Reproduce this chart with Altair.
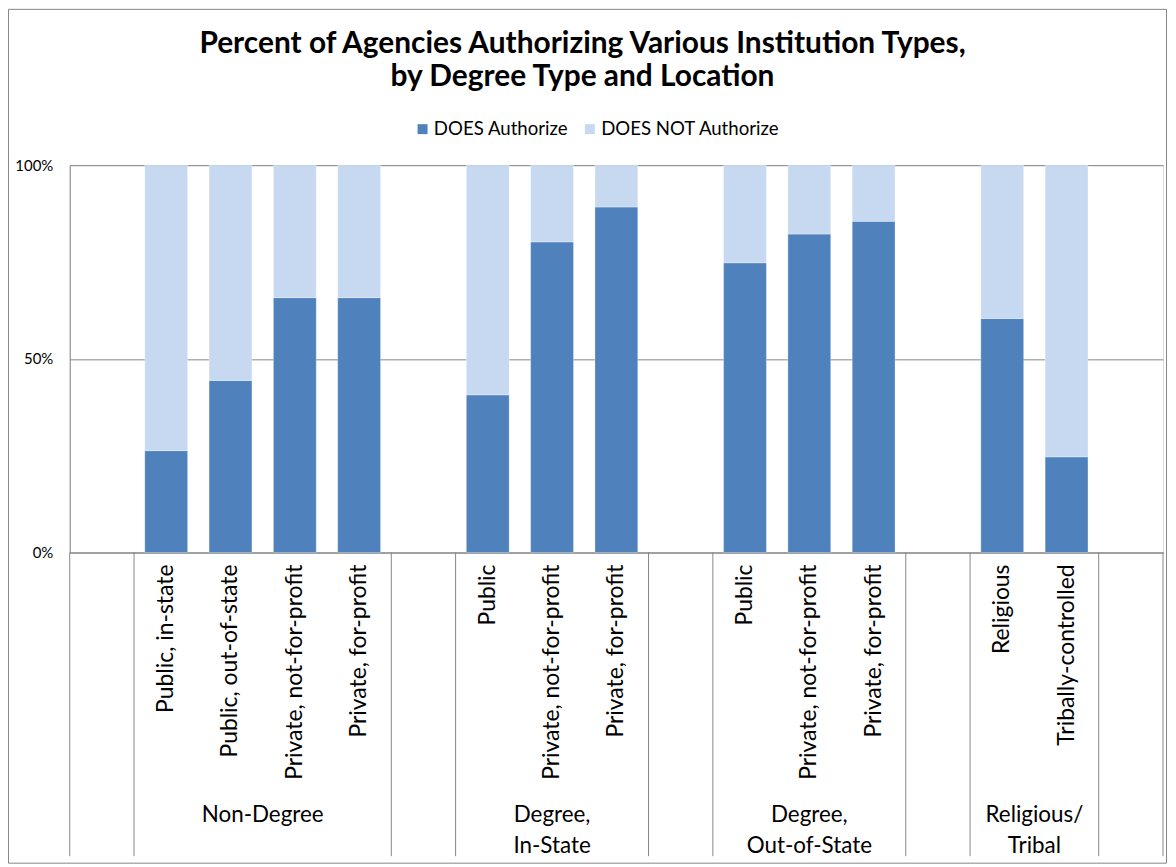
import altair as alt
import pandas as pd

title_lines = ["Percent of Agencies Authorizing Various Institution Types,",
               "by Degree Type and Location"]
series = ["DOES Authorize", "DOES NOT Authorize"]
colors = ["#4F81BD", "#C6D9F1"]
group_names = ["Non-Degree", "Degree,\nIn-State", "Degree,\nOut-of-State", "Religious/\nTribal"]
group_items = [
    ["Public, in-state", "Public, out-of-state", "Private, not-for-profit", "Private, for-profit"],
    ["Public", "Private, not-for-profit", "Private, for-profit"],
    ["Public", "Private, not-for-profit", "Private, for-profit"],
    ["Religious", "Tribally-controlled"],
]
does_pct = [26.3, 44.4, 65.8, 65.8, 40.7, 80.2, 89.2, 74.8, 82.2, 85.5, 60.4, 24.7]
y_ticks = [0, 50, 100]

# build tables (one blank slot before each group and after the last)
bar_rows, label_rows, group_rows, sep_rows = [], [], [], [{"pos": 0}]
slot = 1
k = 0
for g, items in zip(group_names, group_items):
    start = slot
    sep_rows.append({"pos": start})
    for it in items:
        v = does_pct[k]
        bar_rows.append({"x0": slot + 0.167, "x1": slot + 0.833, "series": series[0], "y0": 0, "y1": v})
        bar_rows.append({"x0": slot + 0.167, "x1": slot + 0.833, "series": series[1], "y0": v, "y1": 100})
        label_rows.append({"c": slot + 0.5, "label": it})
        slot += 1
        k += 1
    sep_rows.append({"pos": slot})
    group_rows.append({"c": (start + slot) / 2, "label": g})
    slot += 1
n_slots = slot
sep_rows.append({"pos": n_slots})

bars_df = pd.DataFrame(bar_rows)
labels_df = pd.DataFrame(label_rows)
groups_df = pd.DataFrame(group_rows)
seps_df = pd.DataFrame(sep_rows)

W, H = 1098, 389
FONT = "Lato"
GRAY = "#868686"

xscale = alt.Scale(domain=[0, n_slots], nice=False, zero=False)

bars = alt.Chart(bars_df).mark_bar(stroke="#FFFFFF", strokeWidth=0.6, strokeOpacity=0.5).encode(
    x=alt.X("x0:Q", scale=xscale,
            axis=alt.Axis(title=None, labels=False, ticks=False, grid=False,
                          domainColor=GRAY, domainWidth=1)),
    x2="x1:Q",
    y=alt.Y("y0:Q", scale=alt.Scale(domain=[0, 100], nice=False),
            axis=alt.Axis(title=None, values=y_ticks, labelExpr="datum.value + '%'",
                          ticks=False, tickSize=0, labelPadding=17, labelFontSize=15,
                          labelFont=FONT, labelColor="#000000",
                          domainColor=GRAY, gridColor=GRAY, grid=True)),
    y2="y1:Q",
    color=alt.Color("series:N", scale=alt.Scale(domain=series, range=colors),
                    legend=alt.Legend(orient="none", legendX=345, legendY=-46,
                                      direction="horizontal", title=None,
                                      symbolType="square", symbolSize=100,
                                      symbolStrokeWidth=0, labelFontSize=18.7,
                                      labelFont=FONT, labelColor="#000000",
                                      labelLimit=400,
                                      labelOffset=2, columnPadding=12)),
)

seps = alt.Chart(seps_df).mark_rule(color=GRAY, strokeWidth=1).encode(
    x=alt.X("pos:Q", scale=xscale),
    y=alt.value(H),
    y2=alt.value(H + 305),
)

cat_labels = alt.Chart(labels_df).mark_text(
    angle=270, align="right", baseline="middle", fontSize=23, font=FONT, color="#000000"
).encode(
    x=alt.X("c:Q", scale=xscale),
    y=alt.value(H + 12),
    text="label:N",
)

grp_labels = alt.Chart(groups_df).mark_text(
    lineBreak="\n", align="center", baseline="middle", fontSize=22.5, font=FONT,
    color="#000000", lineHeight=31
).encode(
    x=alt.X("c:Q", scale=xscale),
    y=alt.value(H + 264),
    text="label:N",
)

border = alt.Chart(pd.DataFrame({"a": [0]})).mark_rect(
    fill=None, stroke=GRAY, strokeWidth=1
).encode(
    x=alt.value(-61.5), x2=alt.value(W + 3.5),
    y=alt.value(-156.5), y2=alt.value(H + 312),
)

chart = alt.layer(border, bars, seps, cat_labels, grp_labels).properties(
    width=W, height=H,
    title=alt.TitleParams(text=title_lines, fontSize=30, font=FONT, fontWeight="bold",
                          anchor="middle", dx=-34, dy=103, lineHeight=33, color="#000000",
                          offset=20),
    autosize=alt.AutoSizeParams(type="none"),
    padding={"left": 62, "top": 156, "right": 5, "bottom": 314},
).configure_view(stroke=None).configure(background="#FFFFFF")

chart.save("out.html", embed_options={"renderer": "svg", "actions": False})
